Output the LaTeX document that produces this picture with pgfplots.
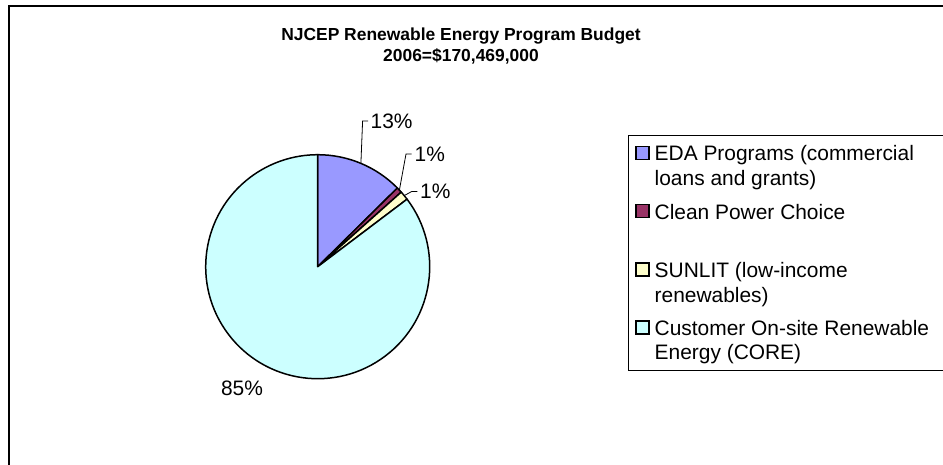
\documentclass[border=0pt]{standalone}
\usepackage{pgfplots}
\pgfplotsset{compat=1.18}
\usepackage{pgfplotstable}
\usepackage{fontspec}
\setmainfont{Liberation Sans}

\definecolor{slice0}{HTML}{9999FF}
\definecolor{slice1}{HTML}{993366}
\definecolor{slice2}{HTML}{FFFFCC}
\definecolor{slice3}{HTML}{CCFFFF}

% share of the 2006 budget, percent
\pgfplotstableread{
slice pct
0 12.6
1 0.8
2 1.3
3 85.3
}\budget

\begin{document}
\begin{tikzpicture}
\begin{axis}[
  scale only axis, width=943bp, height=465bp,
  xmin=0, xmax=943, ymin=0, ymax=465, y dir=reverse,
  hide axis, clip=false,
]
% chart area frame (cropped at right and bottom)
\draw[line width=1.4bp] (axis cs:9,465) -- (axis cs:9,6) -- (axis cs:943,6);

% title
\node[anchor=base, font=\bfseries\fontsize{17.5}{21}\selectfont, inner sep=0pt]
  at (axis cs:461,41) {NJCEP Renewable Energy Program Budget};
\node[anchor=base, font=\bfseries\fontsize{17.5}{21}\selectfont, inner sep=0pt]
  at (axis cs:461,62) {2006=\$170,469,000};

% pie slices, clockwise from the top
\xdef\angA{90}
\pgfplotsinvokeforeach{0,1,2,3}{
  \pgfplotstablegetelem{#1}{pct}\of\budget
  \pgfmathsetmacro\angB{\angA-3.6*\pgfplotsretval}
  \edef\temp{\noexpand\filldraw[fill=slice#1, draw=black, line width=1.5bp, line join=round]
    (axis cs:317.7,266.7) -- ++(\angA:112bp) arc[start angle=\angA, end angle=\angB, radius=112bp] -- cycle;}
  \temp
  \xdef\angA{\angB}
}

% data labels
\begin{scope}[every node/.style={anchor=west, inner sep=0pt, font=\fontsize{21}{25}\selectfont}]
\draw[line width=0.8bp] (axis cs:360.9,163.4) -- (axis cs:362.6,121) -- (axis cs:368,121);
\node at (axis cs:370.5,121) {13\%};
\draw[line width=0.8bp] (axis cs:399.4,190) -- (axis cs:406,154) -- (axis cs:411.7,154);
\node at (axis cs:414.5,154) {1\%};
\draw[line width=0.8bp] (axis cs:404.2,195.6) -- (axis cs:411.7,191.5) -- (axis cs:417.3,191.5);
\node at (axis cs:420,191.5) {1\%};
\node[anchor=center] at (axis cs:242,388) {85\%};
\end{scope}

% legend
\draw[line width=1bp] (axis cs:943,135) -- (axis cs:628,135) -- (axis cs:628,370) -- (axis cs:943,370);
\filldraw[fill=slice0, line width=1.3bp] (axis cs:636,146.5) rectangle (axis cs:649,159.5);
\filldraw[fill=slice1, line width=1.3bp] (axis cs:636,204.5) rectangle (axis cs:649,217.5);
\filldraw[fill=slice2, line width=1.3bp] (axis cs:636,263) rectangle (axis cs:649,276);
\filldraw[fill=slice3, line width=1.3bp] (axis cs:636,321) rectangle (axis cs:649,334);
\begin{scope}[every node/.style={anchor=base west, inner sep=0pt, font=\fontsize{21}{25}\selectfont}]
\node at (axis cs:654.5,160) {EDA Programs (commercial};
\node at (axis cs:654.5,185) {loans and grants)};
\node at (axis cs:654.5,219) {Clean Power Choice};
\node at (axis cs:654.5,277) {SUNLIT (low-income};
\node at (axis cs:654.5,302) {renewables)};
\node at (axis cs:654.5,335) {Customer On-site Renewable};
\node at (axis cs:654.5,359) {Energy (CORE)};
\end{scope}
\end{axis}
\pgfresetboundingbox
\useasboundingbox (current axis.south west) rectangle (current axis.north east);
\end{tikzpicture}
\end{document}
